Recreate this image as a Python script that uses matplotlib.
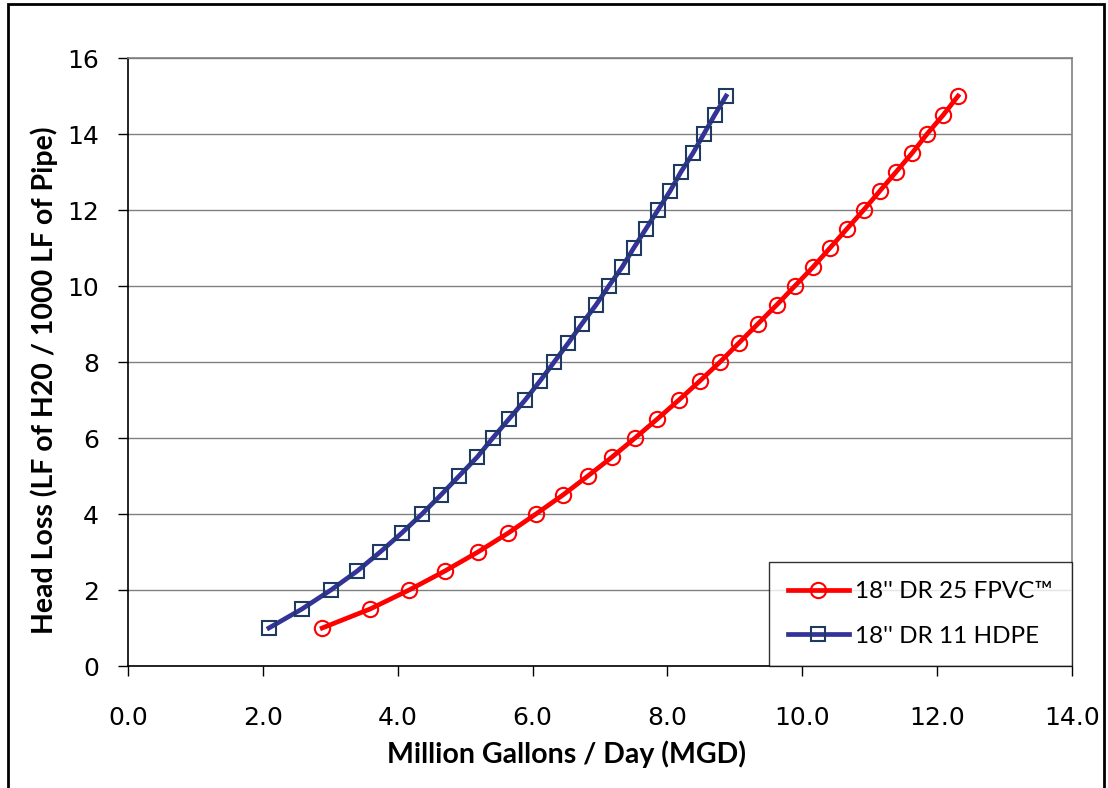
import matplotlib
matplotlib.use("Agg")
import matplotlib.pyplot as plt
from matplotlib.patches import Rectangle

head_loss = [1.0, 1.5, 2.0, 2.5, 3.0, 3.5, 4.0, 4.5, 5.0, 5.5, 6.0, 6.5, 7.0, 7.5, 8.0,
             8.5, 9.0, 9.5, 10.0, 10.5, 11.0, 11.5, 12.0, 12.5, 13.0, 13.5, 14.0, 14.5, 15.0]
fpvc_mgd = [2.88, 3.59, 4.17, 4.70, 5.19, 5.64, 6.05, 6.45, 6.82, 7.18, 7.52, 7.85, 8.17, 8.48, 8.78,
            9.06, 9.34, 9.62, 9.89, 10.16, 10.41, 10.66, 10.91, 11.15, 11.39, 11.63, 11.85, 12.09, 12.31]
hdpe_mgd = [2.09, 2.58, 3.01, 3.40, 3.74, 4.06, 4.36, 4.64, 4.91, 5.18, 5.41, 5.65, 5.89, 6.11, 6.32,
            6.53, 6.73, 6.94, 7.13, 7.33, 7.50, 7.68, 7.86, 8.04, 8.20, 8.38, 8.54, 8.70, 8.87]
series_labels = ["18'' DR 25 FPVC\u2122", "18'' DR 11 HDPE"]
x_ticks = [0, 2, 4, 6, 8, 10, 12, 14]
y_ticks = [0, 2, 4, 6, 8, 10, 12, 14, 16]

fig = plt.figure(figsize=(11.08, 7.88), dpi=100)
ax = fig.add_axes([128/1108, 1-666/788, (1072-128)/1108, (666-58)/788])

ax.plot(fpvc_mgd, head_loss, color="#FF0000", lw=3.4, marker="o", ms=11,
        mfc="none", mec="#FF0000", mew=1.5, label=series_labels[0], zorder=3)
ax.plot(hdpe_mgd, head_loss, color="#333399", lw=3.4, marker="s", ms=10,
        mfc="none", mec="#1F3A60", mew=1.5, label=series_labels[1], zorder=3)

ax.set_xlim(0, 14)
ax.set_ylim(0, 16)
ax.set_xticks(x_ticks)
ax.set_xticklabels([f"{v:.1f}" for v in x_ticks])
ax.set_yticks(y_ticks)
ax.tick_params(axis="both", direction="out", length=7, width=1, labelsize=18, pad=8)
ax.tick_params(axis="x", pad=22)
ax.tick_params(axis="y", pad=14)
ax.yaxis.grid(True, color="#808080", lw=1)
ax.set_axisbelow(True)
for s in ["left", "bottom"]:
    ax.spines[s].set_color("black")
    ax.spines[s].set_linewidth(1.2)
for s in ["top", "right"]:
    ax.spines[s].set_color("#808080")
    ax.spines[s].set_linewidth(1.2)

ax.set_xlabel("Million Gallons / Day (MGD)", fontsize=20.5, fontweight="bold", family="Lato")
ax.set_ylabel("Head Loss (LF of H20 / 1000 LF of Pipe)", fontsize=20.5, fontweight="bold",
              family="Lato")
ax.xaxis.set_label_coords(0.464, -0.122)
ax.yaxis.set_label_coords(-0.074, 0.47)

leg = ax.legend(loc="lower right", bbox_to_anchor=(1.0, 0.0),
                prop={"family": "Lato", "size": 17.5}, frameon=True, fancybox=False,
                edgecolor="black", handlelength=2.5, borderpad=0.8, labelspacing=0.95,
                handletextpad=0.25, borderaxespad=0)
leg.get_frame().set_linewidth(1.0)

fig.patches.append(Rectangle((8/1108, -0.01), (1104-8)/1108, 1-4/788 + 0.01,
                             transform=fig.transFigure, fill=False, edgecolor="black", lw=2))

fig.savefig("out.png", dpi=100)
